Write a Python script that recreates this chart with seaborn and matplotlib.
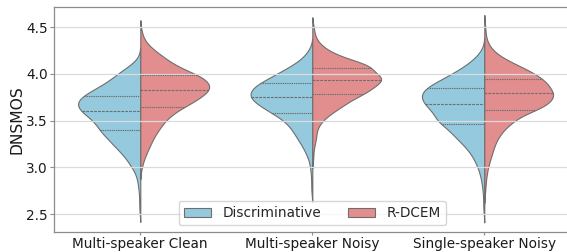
import numpy as np
import pandas as pd
import matplotlib
matplotlib.use("Agg")
import matplotlib.pyplot as plt
import seaborn as sns

categories = ["Multi-speaker Clean", "Multi-speaker Noisy", "Single-speaker Noisy"]
models = ["Discriminative", "R-DCEM"]
colors = ["skyblue", "lightcoral"]
yticks = [2.5, 3.0, 3.5, 4.0, 4.5]

# Binned DNSMOS scores (score value, number of utterances at that value)
disc_clean_scores = [2.55, 2.65, 2.75, 2.80, 2.85, 2.90, 2.95, 3.00, 3.05, 3.10, 3.15,
                     3.20, 3.25, 3.30, 3.35, 3.40, 3.45, 3.50, 3.55, 3.60, 3.65, 3.70,
                     3.75, 3.767, 3.80, 3.85, 3.90, 3.95, 4.00, 4.05, 4.10, 4.15]
disc_clean_counts = [1, 1, 1, 1, 1, 2, 2, 4, 6, 6, 9,
                     11, 13, 15, 17, 20, 20, 21, 25, 28, 31, 30,
                     27, 4, 22, 21, 16, 13, 11, 8, 4, 1]

rdcem_clean_scores = [3.00, 3.05, 3.10, 3.15, 3.20, 3.25, 3.30, 3.35, 3.40, 3.45,
                      3.50, 3.55, 3.60, 3.65, 3.70, 3.75, 3.80, 3.828, 3.85, 3.90,
                      3.95, 3.986, 4.00, 4.05, 4.10, 4.15, 4.20, 4.25, 4.30, 4.35,
                      4.40, 4.45]
rdcem_clean_counts = [1, 1, 2, 3, 4, 5, 6, 7, 9, 10,
                      12, 14, 17, 21, 26, 29, 30, 4, 33, 33,
                      31, 4, 24, 20, 16, 13, 10, 7, 4, 2,
                      1, 1]

disc_mnoisy_scores = [2.75, 2.85, 2.95, 3.00, 3.05, 3.10, 3.15, 3.20, 3.25, 3.30,
                      3.35, 3.40, 3.45, 3.50, 3.55, 3.582, 3.60, 3.65, 3.70, 3.75,
                      3.80, 3.85, 3.90, 3.95, 4.00, 4.05, 4.10, 4.15, 4.20, 4.25]
disc_mnoisy_counts = [1, 1, 1, 1, 1, 2, 3, 4, 5, 7,
                      8, 9, 11, 13, 14, 4, 18, 23, 28, 29,
                      30, 28, 25, 20, 17, 12, 9, 5, 3, 2]

rdcem_mnoisy_scores = [3.10, 3.20, 3.25, 3.30, 3.35, 3.40, 3.45, 3.50, 3.55, 3.60,
                       3.65, 3.70, 3.75, 3.782, 3.80, 3.85, 3.90, 3.932, 3.95, 4.00,
                       4.06, 4.10, 4.15, 4.20, 4.25, 4.30, 4.35, 4.40, 4.45, 4.50]
rdcem_mnoisy_counts = [1, 1, 1, 2, 2, 2, 3, 5, 7, 11,
                       14, 18, 19, 4, 24, 30, 30, 4, 34, 34,
                       30, 25, 19, 12, 8, 4, 3, 1, 1, 1]

disc_snoisy_scores = [2.55, 2.65, 2.75, 2.80, 2.85, 2.90, 2.95, 3.00, 3.05, 3.10, 3.15,
                      3.20, 3.25, 3.30, 3.35, 3.40, 3.46, 3.50, 3.55, 3.60, 3.65, 3.675,
                      3.70, 3.75, 3.80, 3.85, 3.90, 3.95, 4.00, 4.05, 4.10, 4.15, 4.20,
                      4.25]
disc_snoisy_counts = [1, 1, 1, 1, 1, 2, 2, 3, 4, 5, 6,
                      8, 10, 12, 15, 17, 20, 21, 22, 23, 25, 4,
                      26, 30, 30, 28, 23, 19, 15, 11, 8, 5, 3,
                      1]

rdcem_snoisy_scores = [2.75, 2.85, 2.90, 2.95, 3.00, 3.05, 3.10, 3.15, 3.20, 3.25,
                       3.30, 3.35, 3.40, 3.45, 3.50, 3.55, 3.61, 3.65, 3.70, 3.75,
                       3.795, 3.85, 3.90, 3.95, 4.00, 4.05, 4.10, 4.15, 4.20, 4.25,
                       4.30, 4.35, 4.40, 4.50]
rdcem_snoisy_counts = [1, 1, 1, 1, 2, 2, 3, 4, 4, 5,
                       6, 7, 9, 11, 14, 18, 23, 27, 30, 32,
                       33, 32, 30, 27, 24, 20, 15, 10, 6, 4,
                       2, 1, 1, 1]

groups = [
    (categories[0], models[0], disc_clean_scores, disc_clean_counts),
    (categories[0], models[1], rdcem_clean_scores, rdcem_clean_counts),
    (categories[1], models[0], disc_mnoisy_scores, disc_mnoisy_counts),
    (categories[1], models[1], rdcem_mnoisy_scores, rdcem_mnoisy_counts),
    (categories[2], models[0], disc_snoisy_scores, disc_snoisy_counts),
    (categories[2], models[1], rdcem_snoisy_scores, rdcem_snoisy_counts),
]
frames = []
for cat, model, scores, counts in groups:
    vals = np.repeat(np.asarray(scores, dtype=float), counts)
    frames.append(pd.DataFrame({"condition": cat, "model": model, "DNSMOS": vals}))
df = pd.concat(frames, ignore_index=True)

sns.set_theme(style="whitegrid")
plt.rcParams.update({
    "font.family": ["DejaVu Sans"],
    "axes.edgecolor": "0.55",
    "axes.linewidth": 0.9,
    "axes.axisbelow": "line",
    "grid.color": "0.86",
    "grid.linewidth": 0.9,
    "xtick.bottom": True,
    "ytick.left": True,
    "xtick.major.size": 2.5,
    "ytick.major.size": 2.8,
    "xtick.major.width": 0.8,
    "ytick.major.width": 0.8,
    "xtick.color": "0.55",
    "ytick.color": "0.55",
    "xtick.labelcolor": "0.1",
    "ytick.labelcolor": "0.1",
    "xtick.major.pad": 1.0,
    "ytick.major.pad": 2.0,
})

fig = plt.figure(figsize=(5.67, 2.52), dpi=100)
ax = fig.add_axes([54.3 / 567, 19.7 / 252, 516 / 567, 225 / 252])

# one call per condition: the two halves of each violin share one area scaling
for i, cat in enumerate(categories):
    sub = df[df["condition"] == cat]
    sns.violinplot(data=sub, x="condition", y="DNSMOS", hue="model",
                   order=categories, hue_order=models, palette=colors,
                   split=True, inner="quart", bw_adjust=0.8, cut=2,
                   common_norm=True, linewidth=0.8,
                   legend="auto" if i == 0 else False, ax=ax)

ax.set_xlim(-0.5, 2.5)
ax.set_ylim(2.304, 4.714)
ax.set_yticks(yticks)
ax.set_yticklabels([f"{t:.1f}" for t in yticks])
ax.tick_params(axis="both", labelsize=9.8)
ax.set_xlabel("")
ax.set_ylabel("DNSMOS", fontsize=11.2, color="0.1", labelpad=1)
sns.move_legend(ax, "lower center", ncol=2, title=None, fontsize=9.8, frameon=True)

fig.savefig("out.png", dpi=100)
